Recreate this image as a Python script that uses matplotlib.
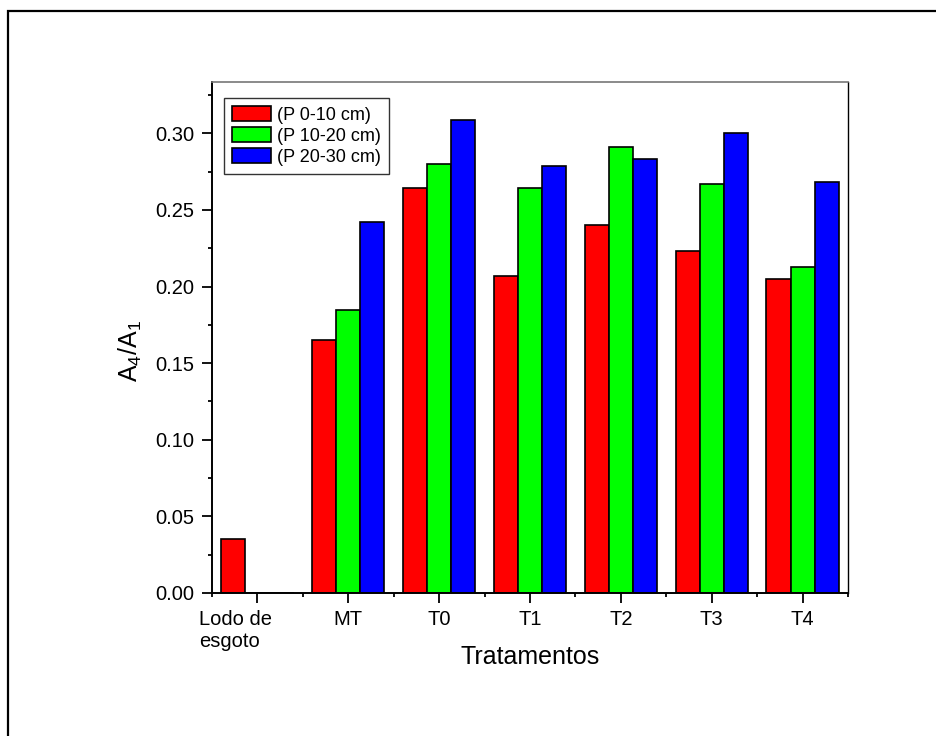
import matplotlib
matplotlib.use('Agg')
import matplotlib.pyplot as plt
from matplotlib.patches import Rectangle
from matplotlib.transforms import ScaledTranslation
from matplotlib.ticker import MultipleLocator
import numpy as np

plt.rcParams['font.family'] = ['Liberation Sans', 'DejaVu Sans']
plt.rcParams['mathtext.default'] = 'regular'

categorias = ['Lodo de\nesgoto', 'MT', 'T0', 'T1', 'T2', 'T3', 'T4']
p_0_10 = [0.035, 0.165, 0.264, 0.207, 0.240, 0.223, 0.205]
p_10_20 = [0.0, 0.185, 0.280, 0.264, 0.291, 0.267, 0.213]
p_20_30 = [0.0, 0.242, 0.309, 0.279, 0.283, 0.300, 0.268]
rotulos = ['(P 0-10 cm)', '(P 10-20 cm)', '(P 20-30 cm)']
cores = ['#ff0000', '#00ff00', '#0000ff']

fig = plt.figure(figsize=(9.37, 7.36), dpi=100)
ax = fig.add_axes([212/937, 1-593/736, 636/937, 511/736])

x = np.arange(len(categorias))
w = 0.265
for i, (serie, cor, lab) in enumerate(zip([p_0_10, p_10_20, p_20_30], cores, rotulos)):
    ax.bar(x + (i-1)*w, serie, w, color=cor, edgecolor='black', linewidth=1.2, label=lab)

ax.set_xlim(-0.5, 6.5)
ax.set_ylim(0, 0.3335)
ax.set_xticks(x)
ax.set_xticklabels(categorias, fontsize=14.5)
ax.xaxis.set_minor_locator(MultipleLocator(1, offset=0.5))
ax.yaxis.set_major_locator(MultipleLocator(0.05))
ax.yaxis.set_minor_locator(MultipleLocator(0.025))
ax.yaxis.set_major_formatter(matplotlib.ticker.FormatStrFormatter('%.2f'))
ax.tick_params(axis='both', which='major', direction='out', length=7.5, width=1.3,
               labelsize=14.5, pad=5, top=False, right=False)
ax.tick_params(axis='both', which='minor', direction='out', length=3, width=1.3,
               top=False, right=False)

lbl0 = ax.get_xticklabels()[0]
lbl0.set_multialignment('left')
lbl0.set_transform(lbl0.get_transform() + ScaledTranslation(-0.22, 0, fig.dpi_scale_trans))

for s in ['left', 'bottom']:
    ax.spines[s].set_linewidth(1.4)
ax.spines['top'].set_linewidth(1.2)
ax.spines['top'].set_color('#777777')
ax.spines['right'].set_linewidth(1.0)

ax.set_xlabel('Tratamentos', fontsize=18)
ax.xaxis.set_label_coords(0.5, -0.125)
ax.xaxis.label.set_va('center')
ax.set_ylabel(r'A$_4$/A$_1$', fontsize=18)
ax.yaxis.set_label_coords(-0.129, 0.474)
ax.yaxis.label.set_va('center')

leg = ax.legend(loc='upper left', bbox_to_anchor=(12/636, 1-16/511), fontsize=13,
                frameon=True, fancybox=False, handlelength=2.15, handleheight=0.85,
                handletextpad=0.35, borderpad=0.45, labelspacing=0.2, borderaxespad=0)
leg.get_frame().set_edgecolor('black')
leg.get_frame().set_linewidth(1.0)

fig.add_artist(Rectangle((8/937, -0.1), 1.2, (736-11)/736 + 0.1, transform=fig.transFigure,
                         fill=False, edgecolor='black', linewidth=1.6))

fig.savefig('out.png', dpi=100)
